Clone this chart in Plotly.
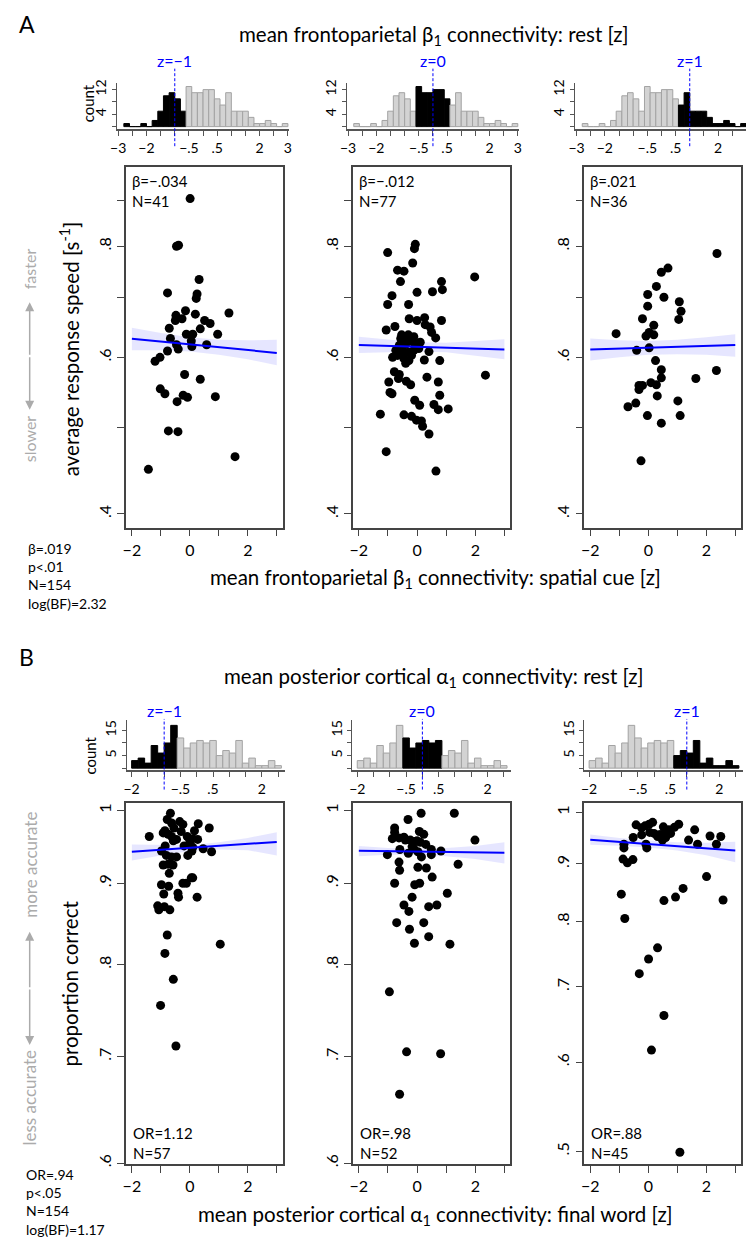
import numpy as np
import plotly.graph_objects as go

FONT = "Lato"
BLUE = "#0000ff"
GRAY_TXT = "#ababab"
AXC = "#444444"

# ---------------- data ----------------
bin_width = 0.2
hist_a_start = -2.8   # frontoparietal beta1 rest connectivity, bins of 0.2
hist_a_counts = [1, 0, 0, 1, 0, 2, 5, 10, 11, 9, 5, 13, 11, 11, 12, 12, 9, 7, 11,
                 5, 5, 5, 3, 1, 1, 2, 1, 0, 1]
hist_b_start = -2.0   # posterior cortical alpha1 rest connectivity
hist_b_counts = [3, 4, 2, 9, 6, 10, 17, 12, 8, 10, 11, 10, 11, 5, 7, 6, 11, 2, 4,
                 1, 1, 3, 1]
window_z = [-1, 0, 1]
window_edges = [-0.6, 0.6]

a1_x = [0.01, -0.46, -0.39, 0.32, -0.77, 0.25, 0.22, -0.15, -0.48, -0.50, -0.27, 0.19,
        1.35, 0.51, 0.70, -0.71, 0.36, -0.12, 0.10, 0.96, -0.67, -0.46, -0.40, 0.07,
        0.58, -0.77, -1.03, -1.20, -0.18, 0.36, -1.02, -0.86, -0.23, -0.08, 0.88,
        -0.44, -0.74, -0.41, 1.56, -1.43, 0.05]
a1_y = [0.905, 0.800, 0.802, 0.734, 0.709, 0.707, 0.699, 0.677, 0.669, 0.660, 0.663,
        0.671, 0.673, 0.660, 0.655, 0.647, 0.646, 0.637, 0.637, 0.637, 0.630, 0.620,
        0.613, 0.617, 0.620, 0.610, 0.600, 0.594, 0.574, 0.567, 0.553, 0.546, 0.544,
        0.541, 0.542, 0.535, 0.496, 0.495, 0.464, 0.449, 0.626]

a2_x = [-1.01, -0.06, -0.09, -0.15, -0.67, -0.45, -0.57, 0.84, 0.87, 1.98, 0.00, 0.53,
        -0.86, -1.01, -0.29, -0.27, 0.00, 0.26, 0.28, 0.84, -1.06, -0.76, 0.45, 0.50,
        0.64, -0.53, -0.30,
        -0.17, -0.06, -0.39, -0.61, -0.50, -0.73, -0.84, -0.67, -0.45, -0.28, -0.06,
        0.06, -0.11, -0.39, -0.78, -0.61, -0.64, -0.28, 0.11, -0.56, -0.19, -0.34,
        -0.11, -0.48,
        0.41, 0.25, 0.78, 2.35, -0.97, -0.93, -0.86, -0.37, -0.22, 0.34, 0.73, 0.78,
        -0.08, 0.09, 0.58, 0.73, 1.07, -1.26, -0.45, -0.19, -0.02, 0.15, 0.19, 0.41,
        -1.06, 0.65]
a2_y = [0.787, 0.804, 0.795, 0.766, 0.752, 0.750, 0.730, 0.730, 0.715, 0.739, 0.710,
        0.711, 0.704, 0.688, 0.688, 0.663, 0.660, 0.665, 0.653, 0.660, 0.644, 0.650,
        0.649, 0.640, 0.631, 0.636, 0.636,
        0.625, 0.621, 0.621, 0.619, 0.613, 0.611, 0.600, 0.603, 0.598, 0.595, 0.618,
        0.614, 0.611, 0.591, 0.578, 0.574, 0.568, 0.608, 0.624, 0.630, 0.603, 0.630,
        0.633, 0.606,
        0.609, 0.596, 0.595, 0.573, 0.563, 0.548, 0.546, 0.564, 0.559, 0.570, 0.563,
        0.544, 0.537, 0.530, 0.531, 0.524, 0.525, 0.518, 0.517, 0.515, 0.510, 0.509,
        0.502, 0.492, 0.470, 0.447]

a3_x = [2.37, 0.68, 0.45, 0.28, -0.02, 0.54, 1.07, 1.13, -0.02, -0.20, 1.05, 0.19,
        -1.11, -0.08, 0.03, 0.19, -0.40, 0.03, 0.25, 0.45, 2.35, 0.45, 1.64, -0.32,
        -0.20, 0.09, 0.28, -0.32, 0.31, 1.02, -0.70, -0.43, -0.03, 1.10, 0.45, -0.25]
a3_y = [0.785, 0.756, 0.748, 0.721, 0.706, 0.701, 0.693, 0.676, 0.685, 0.663, 0.662,
        0.652, 0.638, 0.634, 0.640, 0.636, 0.611, 0.615, 0.595, 0.581, 0.580, 0.569,
        0.568, 0.558, 0.558, 0.562, 0.559, 0.552, 0.543, 0.536, 0.528, 0.533, 0.516,
        0.516, 0.506, 0.459]

b1_x = [-1.40, -0.67, -0.78, -0.63, -0.35, -0.24, 0.29, 0.67, 0.16, -0.09, 0.10, 0.27,
        -0.92, -0.75, -0.63, -0.46, -0.57, -0.86, -0.01, 0.10, 0.46, 0.75, -0.98, -0.81,
        -0.63, -0.46, -0.07, 0.07, -0.92, -0.75, -0.58, -0.71, -0.24, -0.12, 0.05, 0.10,
        -0.98, -0.73, -0.90, -0.41, -0.39, 0.25, -1.11, -1.07, -0.88, -0.69, -0.78, 1.05,
        -0.86, -0.57, -1.01, -0.48, -0.55, -0.30, 0.00, -0.85, -0.20]
b1_y = [0.963, 0.996, 0.987, 0.982, 0.984, 0.980, 0.981, 0.975, 0.971, 0.963, 0.960,
        0.959, 0.968, 0.966, 0.963, 0.959, 0.957, 0.971, 0.952, 0.948, 0.946, 0.942,
        0.943, 0.937, 0.935, 0.935, 0.937, 0.943, 0.924, 0.925, 0.924, 0.913, 0.900,
        0.900, 0.907, 0.907, 0.898, 0.896, 0.886, 0.887, 0.882, 0.882, 0.871, 0.866,
        0.870, 0.866, 0.835, 0.824, 0.813, 0.783, 0.754, 0.711, 0.975, 0.970, 0.958,
        0.950, 0.950]

b2_x = [0.14, 1.28, -0.31, -0.77, -0.77, -0.85, -0.62, -0.40, 0.08, 0.23, -0.23, -0.08,
        0.00, 0.11, -0.17, -0.11, 1.99, -0.59, -1.02, 0.03, 0.49, 0.49, 0.82, -0.62,
        -0.60, 0.03, 0.32, 1.41, -0.77, 0.52, -0.08, 0.09, 1.04, -0.17, -0.45, -0.28,
        0.40, 0.68, -0.70, 0.23, -0.26, 0.40, -0.09, 1.13, -0.95, -0.36, 0.81, -0.60,
        -0.45, 0.30, -0.30, 0.15]
b2_y = [0.996, 0.996, 0.987, 0.975, 0.969, 0.960, 0.961, 0.958, 0.970, 0.966, 0.958,
        0.956, 0.957, 0.955, 0.949, 0.946, 0.958, 0.945, 0.938, 0.942, 0.945, 0.938,
        0.943, 0.928, 0.917, 0.921, 0.920, 0.925, 0.900, 0.908, 0.898, 0.900, 0.887,
        0.882, 0.872, 0.864, 0.870, 0.872, 0.850, 0.850, 0.842, 0.833, 0.825, 0.824,
        0.769, 0.705, 0.703, 0.663, 0.962, 0.952, 0.940, 0.935]

b3_x = [-0.42, -0.23, -0.11, 0.03, 0.15, 1.05, 0.52, 0.71, 0.60, 0.77, 0.41, 0.20, 0.32,
        0.49, -0.23, -0.52, 1.60, 1.39, 2.13, 2.50, 1.70, 2.35, -0.08, -0.05, -0.84,
        -0.84, -0.87, -0.72, -0.53, 2.01, 1.20, 0.94, 0.54, 2.58, -0.93, -0.81, 0.32,
        0.01, -0.31, 0.54, 0.11, 1.09, 0.90, 0.60, 0.05]
b3_y = [0.975, 0.969, 0.973, 0.976, 0.980, 0.976, 0.971, 0.965, 0.962, 0.958, 0.956,
        0.958, 0.952, 0.945, 0.955, 0.950, 0.965, 0.945, 0.953, 0.952, 0.937, 0.937,
        0.937, 0.930, 0.937, 0.930, 0.909, 0.902, 0.908, 0.877, 0.856, 0.841, 0.835,
        0.836, 0.846, 0.805, 0.758, 0.741, 0.719, 0.660, 0.615, 0.499, 0.970, 0.950,
        0.960]

line_x = [-2, 3]
a1_line = [0.6295, 0.607]
a2_line = [0.6195, 0.6125]
a3_line = [0.6124, 0.6196]
b1_line = [0.942, 0.9555]
b2_line = [0.9435, 0.9405]
b3_line = [0.9455, 0.925]

band_x = [-2, -1, 0, 1, 2, 3]
a1_hi = [0.648, 0.639, 0.632, 0.628, 0.627, 0.628]
a1_lo = [0.611, 0.611, 0.609, 0.604, 0.597, 0.588]
a2_hi = [0.633, 0.628, 0.624, 0.623, 0.626, 0.629]
a2_lo = [0.607, 0.608, 0.609, 0.608, 0.602, 0.597]
a3_hi = [0.630, 0.627, 0.626, 0.628, 0.632, 0.637]
a3_lo = [0.595, 0.600, 0.604, 0.605, 0.604, 0.601]
b1_hi = [0.952, 0.951, 0.951, 0.955, 0.961, 0.969]
b1_lo = [0.930, 0.937, 0.943, 0.945, 0.944, 0.937]
b2_hi = [0.950, 0.947, 0.946, 0.947, 0.950, 0.955]
b2_lo = [0.936, 0.938, 0.938, 0.936, 0.932, 0.926]
b3_hi = [0.956, 0.949, 0.944, 0.941, 0.940, 0.942]
b3_lo = [0.936, 0.934, 0.931, 0.925, 0.916, 0.903]

a_stats = [("β=−.034", "N=41"), ("β=−.012", "N=77"), ("β=.021", "N=36")]
b_stats = [("OR=1.12", "N=57"), ("OR=.98", "N=52"), ("OR=.88", "N=45")]
a_total = ["β=.019", "p<.01", "N=154", "log(BF)=2.32"]
b_total = ["OR=.94", "p<.05", "N=154", "log(BF)=1.17"]

# ---------------- layout helpers ----------------
W, H = 749, 1243


def fx(p):
    return p / W


def fy(p):
    return 1 - p / H


fig = go.Figure()
layout = dict(width=W, height=H, margin=dict(l=0, r=0, t=0, b=0),
              paper_bgcolor="white", plot_bgcolor="white", showlegend=False,
              font=dict(family=FONT, color="black"))
annotations = []
shapes = []


def add_axes(i, xdom, ydom, xcfg, ycfg):
    xn = "xaxis" if i == 1 else f"xaxis{i}"
    yn = "yaxis" if i == 1 else f"yaxis{i}"
    xr = "x" if i == 1 else f"x{i}"
    yr = "y" if i == 1 else f"y{i}"
    layout[xn] = dict(domain=[max(0, fx(xdom[0])), min(1, fx(xdom[1]))], anchor=yr, **xcfg)
    layout[yn] = dict(domain=[fy(ydom[1]), fy(ydom[0])], anchor=xr, **ycfg)
    return xr, yr


def text(x, y, s, size, color="black", xanchor="center", angle=0):
    annotations.append(dict(x=fx(x), y=fy(y), xref="paper", yref="paper", text=s,
                            showarrow=False, xanchor=xanchor, yanchor="middle", align="left",
                            textangle=angle, font=dict(size=size, color=color, family=FONT)))


def block(x, y_first, lines, size):
    # multi-line text block; plotly's line spacing is 1.3 em
    n = len(lines)
    yc = y_first + (n - 1) * size * 1.3 / 2
    text(x, yc, "<br>".join(lines), size, xanchor="left")


scat_x_px = [(120.7, 279.3), (350.7, 510.0), (585.3, 744.0)]
TICKF = dict(size=16, family=FONT, color="black")


def scatter_panel(i, xdom, ydom, yrange, yvals, ytext, xs, ys, lx, ly, bx, bhi, blo):
    xcfg = dict(range=[-2.2, 3.2], showgrid=False, zeroline=False, showline=True, mirror=True,
                linecolor=AXC, linewidth=1.5, ticks="outside", ticklen=7, tickwidth=1.2,
                tickcolor=AXC, tickmode="array", tickvals=[-2, -1, 0, 1, 2, 3],
                ticktext=["−2", "", "0", "", "2", ""], tickfont=TICKF)
    ycfg = dict(type="log", range=[np.log10(yrange[0]), np.log10(yrange[1])], showgrid=False,
                zeroline=False, showline=True, mirror=True, linecolor=AXC, linewidth=1.5,
                ticks="outside", ticklen=7, tickwidth=1.2, tickcolor=AXC, tickmode="array",
                tickvals=yvals, ticktext=ytext, tickangle=-90, tickfont=TICKF)
    xr, yr = add_axes(i, xdom, ydom, xcfg, ycfg)
    fig.add_trace(go.Scatter(x=list(bx) + list(bx)[::-1], y=list(bhi) + list(blo)[::-1],
                             fill="toself", fillcolor="rgba(60,60,255,0.13)",
                             line=dict(width=0), mode="lines", hoverinfo="skip",
                             xaxis=xr, yaxis=yr))
    fig.add_trace(go.Scatter(x=xs, y=ys, mode="markers",
                             marker=dict(color="black", size=9, line=dict(width=0)),
                             xaxis=xr, yaxis=yr))
    fig.add_trace(go.Scatter(x=lx, y=ly, mode="lines", line=dict(color=BLUE, width=2),
                             xaxis=xr, yaxis=yr))


def hist_panel(i, xdom, ydom, xrange, yrange, start, counts, lo, hi, xtv, xtt, ytv, ytt, z, zy, zlabel):
    xcfg = dict(range=xrange, showgrid=False, zeroline=False, showline=True, linecolor="#555555",
                linewidth=2, ticks="outside", ticklen=5, tickwidth=1.2, tickcolor="#555555",
                tickmode="array", tickvals=xtv, ticktext=xtt,
                tickfont=dict(size=14, family=FONT, color="black"))
    ycfg = dict(range=yrange, showgrid=False, zeroline=False, showline=True, linecolor="#555555",
                linewidth=1.2, ticks="outside", ticklen=4, tickwidth=1.2, tickcolor="#555555",
                tickmode="array", tickvals=ytv, ticktext=ytt, tickangle=-90,
                tickfont=dict(size=14, family=FONT, color="black"))
    xr, yr = add_axes(i, xdom, ydom, xcfg, ycfg)
    lefts = [start + k * bin_width for k in range(len(counts))]
    centers = [l + bin_width / 2 for l in lefts]
    inwin = [(c > lo) and (c < hi) for c in centers]
    fill = ["black" if w else "#d3d3d3" for w in inwin]
    edge = ["black" if w else "#a3a3a3" for w in inwin]
    fig.add_trace(go.Bar(x=centers, y=counts, width=bin_width, marker=dict(
        color=fill, line=dict(color=edge, width=1)), xaxis=xr, yaxis=yr))
    shapes.append(dict(type="line", xref=xr, yref="paper", x0=z, x1=z, y0=fy(zy[1]), y1=fy(zy[0]),
                       line=dict(color=BLUE, width=1, dash="3px,2px")))
    annotations.append(dict(x=z, y=fy(zy[0] - 8), xref=xr, yref="paper", text=zlabel,
                            showarrow=False, xanchor="center", yanchor="middle",
                            font=dict(size=16, color=BLUE, family=FONT)))


# ---------------- panel A ----------------
a_yr = (0.386, 0.982)
a_tv = [0.4, 0.5, 0.6, 0.7, 0.8, 0.9]
a_tt = [".4", "", ".6", "", ".8", ""]
a_sets = [(a1_x, a1_y, a1_line, a1_hi, a1_lo), (a2_x, a2_y, a2_line, a2_hi, a2_lo),
          (a3_x, a3_y, a3_line, a3_hi, a3_lo)]
for k, (xs, ys, ly, bh, bl) in enumerate(a_sets):
    scatter_panel(k + 1, scat_x_px[k], (164.0, 526.7), a_yr, a_tv, a_tt, xs, ys, line_x, ly,
                  band_x, bh, bl)

# ---------------- panel B ----------------
b_yrs = [(0.5989, 1.0102), (0.5989, 1.0102), (0.4867, 1.0185)]
b_tvs = [[0.6, 0.7, 0.8, 0.9, 1.0], [0.6, 0.7, 0.8, 0.9, 1.0], [0.5, 0.6, 0.7, 0.8, 0.9, 1.0]]
b_tts = [[".6", ".7", ".8", ".9", "1"], [".6", ".7", ".8", ".9", "1"],
         [".5", ".6", ".7", ".8", ".9", "1"]]
b_sets = [(b1_x, b1_y, b1_line, b1_hi, b1_lo), (b2_x, b2_y, b2_line, b2_hi, b2_lo),
          (b3_x, b3_y, b3_line, b3_hi, b3_lo)]
for k, (xs, ys, ly, bh, bl) in enumerate(b_sets):
    scatter_panel(k + 4, scat_x_px[k], (804.0, 1167.0), b_yrs[k], b_tvs[k], b_tts[k], xs, ys,
                  line_x, ly, band_x, bh, bl)

# ---------------- histograms ----------------
wins = [(-99, window_edges[0]), (window_edges[0], window_edges[1]), (window_edges[1], 99)]
zlabels = ["z=−1", "z=0", "z=1"]

# A histograms: 28.67 px per unit
ppu_a = 28.67
a_m3 = [112.7, 345.7, 577.3]
a_xtv = [-3, -2.5, -2, -1.5, -1, -0.5, 0, 0.5, 1, 1.5, 2, 2.5, 3]
a_xtt = ["−3", "", "−2", "", "", "−.5", "", ".5", "", "", "2", "", "3"]
for k in range(3):
    left = a_m3[k] - 0.05 * ppu_a
    right = min(W, a_m3[k] + 6.05 * ppu_a)
    xr_hi = (right - a_m3[k]) / ppu_a - 3
    hist_panel(7 + k, (left, right), (79.9, 125.8), [-3.05, xr_hi], [-0.8, 14],
               hist_a_start, hist_a_counts, wins[k][0], wins[k][1], a_xtv, a_xtt,
               [0, 4, 8, 12], ["", "4", "", "12"], window_z[k], (65, 143), zlabels[k])

# B histograms: 33 px per unit
ppu_b = 33.0
b_m2 = [126.3, 355.0, 590.0]
b_xtv = [-2, -1.5, -1, -0.5, 0, 0.5, 1, 1.5, 2, 2.5]
b_xtt = ["−2", "", "", "−.5", "", ".5", "", "", "2", ""]
for k in range(3):
    left = b_m2[k] - 0.15 * ppu_b
    right = min(W, b_m2[k] + 4.72 * ppu_b)
    hist_panel(10 + k, (left, right), (720.4, 770.5), [-2.15, (right - b_m2[k]) / ppu_b - 2],
               [-0.8, 19], hist_b_start, hist_b_counts, wins[k][0], wins[k][1], b_xtv, b_xtt,
               [0, 5, 10, 15], ["", "5", "", "15"], window_z[k], (719, 790), zlabels[k])

# ---------------- texts ----------------
text(10, 20, "A", 23, xanchor="left")
text(432, 32, "mean frontoparietal β<sub>1</sub> connectivity: rest [z]", 20.5)
text(434, 578, "mean frontoparietal β<sub>1</sub> connectivity: spatial cue [z]", 20.5)
text(83, 100, "count", 15, angle=-90)
text(63, 347, "average response speed [s<sup>-1</sup>]", 20.5, angle=-90)
text(23, 266, "faster", 16, GRAY_TXT, angle=-90)
text(23, 437, "slower", 16, GRAY_TXT, angle=-90)
for k, lines in enumerate(a_stats):
    block(scat_x_px[k][0] + 4, 178, list(lines), 15)
block(19, 548, a_total, 14)

text(10, 657, "B", 23, xanchor="left")
text(432, 677, "mean posterior cortical α<sub>1</sub> connectivity: rest [z]", 20.5)
text(434, 1218, "mean posterior cortical α<sub>1</sub> connectivity: final word [z]", 20.5)
text(84, 756, "count", 15, angle=-90)
text(64, 985, "proportion correct", 20.5, angle=-90)
text(23, 866, "more accurate", 17, GRAY_TXT, angle=-90)
text(23, 1100, "less accurate", 17, GRAY_TXT, angle=-90)
for k, lines in enumerate(b_stats):
    block(scat_x_px[k][0] + 5, 1136, list(lines), 15)
block(17, 1177, b_total, 14)

# double arrows (gray)
for (ytop, ybot) in [(300, 408), (933, 1047)]:
    mid = (ytop + ybot) / 2
    for yh in (ytop, ybot):
        annotations.append(dict(x=fx(23), y=fy(yh), xref="paper", yref="paper", text="",
                                showarrow=True, ax=0, ay=mid - yh, axref="pixel", ayref="pixel",
                                arrowhead=2, arrowsize=1.2, arrowwidth=1.5, arrowcolor=GRAY_TXT))

layout["annotations"] = annotations
layout["shapes"] = shapes
fig.update_layout(**layout)
fig.write_html("out.html", config={"displayModeBar": False},
               post_script="document.body.style.margin='0px';document.body.style.padding='0px';"
                           "document.documentElement.style.overflow='hidden';")
